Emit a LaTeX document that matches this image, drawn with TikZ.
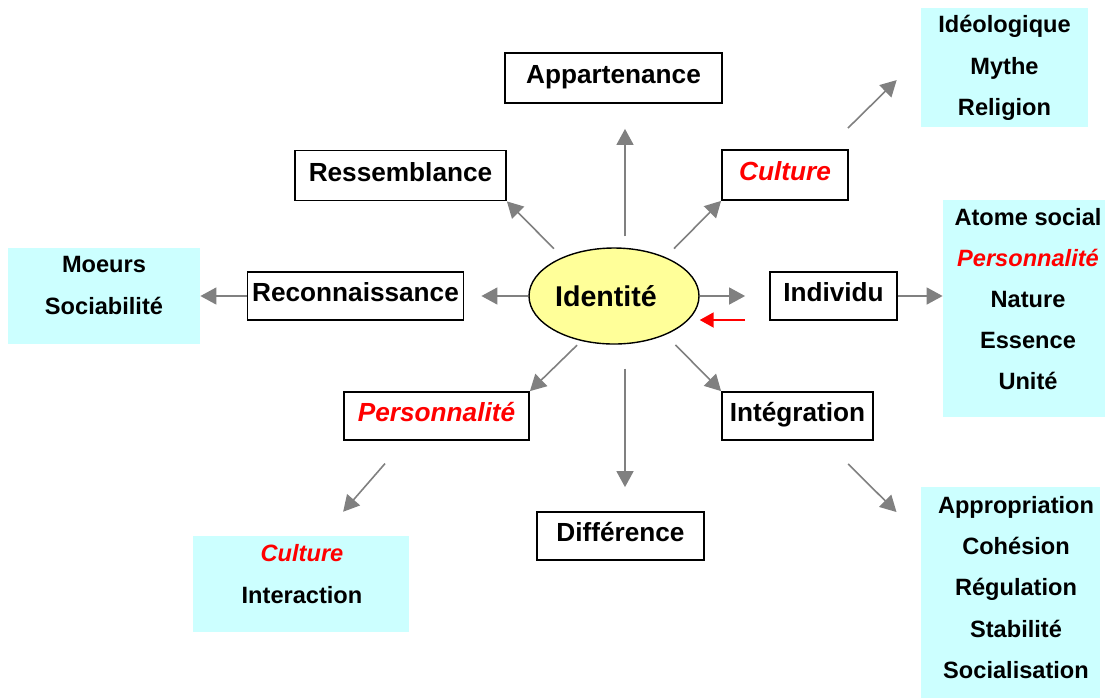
\documentclass[tikz,border=0pt]{standalone}
\usepackage{fontspec}
\setmainfont{Liberation Sans}
\usepackage{xcolor}
\usetikzlibrary{shapes,positioning,calc,arrows.meta}

\definecolor{listblue}{HTML}{CCFFFF}
\definecolor{idyellow}{HTML}{FFFF99}
\definecolor{arrgray}{HTML}{808080}
\newcommand{\redit}[1]{\textcolor{red}{\itshape #1}}

\begin{document}
\begin{tikzpicture}[x=0.5pt, y=-0.5pt,
    box/.style={draw, rectangle, line width=0.9pt, inner sep=0pt, minimum height=25pt,
        text height=9.6pt, text depth=4pt, font=\fontsize{13.1}{15}\selectfont\bfseries},
    listbox/.style={rectangle, fill=listblue, inner sep=0pt},
    listtxt/.style={align=center, inner sep=0pt, font=\fontsize{11.8}{20.6}\selectfont\bfseries},
    arr/.style={-{Triangle[length=8pt,width=8.5pt]}, color=arrgray, line width=0.8pt},
    redarr/.style={-{Triangle[length=7pt,width=7.5pt]}, color=red, line width=1pt}]
    \useasboundingbox (0,0) rectangle (1107,698);

    % centre
    \node (id) [draw, ellipse, fill=idyellow, line width=0.7pt, minimum width=85pt, minimum height=48pt,
        inner sep=0pt, font=\fontsize{14.3}{16}\selectfont\bfseries] at (614,296) {Identité\kern8pt};

    % boxes round the centre
    \node (app) [box, minimum width=108.5pt] at (613.5,78) {Appartenance};
    \node (ress) [box, minimum width=105.5pt] at (400.5,175.5) {Ressemblance};
    \node (cult) [box, minimum width=63pt] at (785,175) {\redit{Culture}};
    \node (reco) [box, minimum width=108pt, minimum height=24pt] at (355.5,296) {Reconnaissance};
    \node (indiv) [box, minimum width=63.5pt, minimum height=24pt] at (833.5,296) {Individu};
    \node (perso) [box, minimum width=92.5pt, minimum height=24pt] at (436.5,416) {\redit{Personnalité}};
    \node (integ) [box, minimum width=75.5pt, minimum height=24pt] at (797.5,416) {Intégration};
    \node (diff) [box, minimum width=83.5pt, minimum height=24pt] at (620.5,536) {Différence};

    % lists
    \node (ideo) [listbox, minimum width=83.5pt, minimum height=59.5pt] at (1004.5,67.5) {};
    \node (ideoT) [listtxt] at (1004.5,68) {Idéologique\\Mythe\\Religion};
    \node (atome) [listbox, minimum width=81pt, minimum height=108.5pt] at (1024,308.5) {};
    \node (atomeT) [listtxt] at (1028,299) {Atome social\\\redit{Personnalité}\\Nature\\Essence\\Unité};
    \node (appro) [listbox, minimum width=89.5pt, minimum height=105.5pt] at (1010.5,592.5) {};
    \node (approT) [listtxt] at (1016,587.5) {Appropriation\\Cohésion\\Régulation\\Stabilité\\Socialisation};
    \node (moeurs) [listbox, minimum width=96pt, minimum height=48pt] at (104,296) {};
    \node (moeursT) [listtxt] at (104,285.5) {Moeurs\\Sociabilité};
    \node (cultb) [listbox, minimum width=108pt, minimum height=48pt] at (301,584) {};
    \node (cultbT) [listtxt] at (302,574) {\redit{Culture}\\Interaction};

    % arrows
    \draw[arr, shorten <=5.5pt, shorten >=12.5pt] ([xshift=5.5pt]id.north) -- ([xshift=5.75pt]app.south);
    \draw[arr, shorten <=6pt] (id.143) -- (ress.south east);
    \draw[arr, shorten <=6pt] (id.37) -- (cult.south west);
    \draw[arr, shorten >=8.5pt] (id) -- (reco);
    \draw[arr, shorten >=12pt] (id) -- (indiv);
    \draw[redarr, shorten <=12pt] ([yshift=-12pt]indiv.west) -- ([yshift=-12pt]id.east);
    \draw[arr, shorten <=3pt] (id.234) -- (perso.north east);
    \draw[arr, shorten <=7pt] (id.323) -- (integ.north west);
    \draw[arr, shorten <=12pt, shorten >=12pt] ([xshift=5.5pt]id.south) -- ([xshift=2.25pt]diff.north);
    \draw[arr, shorten <=15pt, shorten >=15.8pt] ([xshift=-15.9pt]perso.south) -- ([xshift=10.7pt]cultb.north);
    \draw[arr, shorten <=16.3pt, shorten >=17pt] ([xshift=13.75pt]integ.south) -- ([yshift=28.25pt]appro.west);
    \draw[arr, shorten <=15pt, shorten >=16.8pt] ([xshift=20.8pt]cult.north) -- ([yshift=5.5pt]ideo.west);
    \draw[arr] (reco) -- (moeurs);
    \draw[arr] (indiv.east) -- (indiv.east -| atome.west);
\end{tikzpicture}
\end{document}
